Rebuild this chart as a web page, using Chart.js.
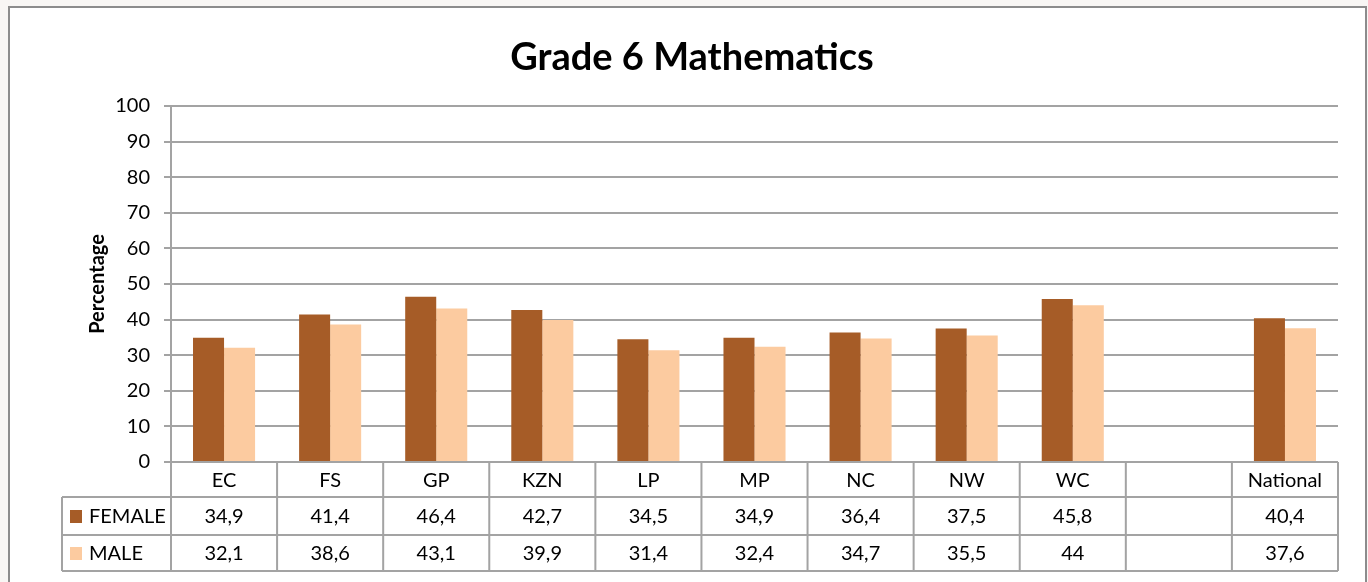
<!DOCTYPE html>
<html>
<head>
<meta charset="utf-8">
<title>Grade 6 Mathematics</title>
<script src="https://cdn.jsdelivr.net/npm/chart.js@4.4.1/dist/chart.umd.min.js"></script>
<style>
  html, body { margin: 0; padding: 0; background: #f8f6f4; }
  #wrap { position: relative; width: 1368px; height: 582px; }
</style>
</head>
<body>
<div id="wrap"><canvas id="chart" width="1368" height="582"></canvas></div>
<script>
// Provinces plus the national figure; the empty slot separates National.
const categories = ['EC', 'FS', 'GP', 'KZN', 'LP', 'MP', 'NC', 'NW', 'WC', '', 'National'];
const femaleValues = [34.9, 41.4, 46.4, 42.7, 34.5, 34.9, 36.4, 37.5, 45.8, null, 40.4];
const maleValues = [32.1, 38.6, 43.1, 39.9, 31.4, 32.4, 34.7, 35.5, 44, null, 37.6];
const seriesNames = ['FEMALE', 'MALE'];
const yTicks = [0, 10, 20, 30, 40, 50, 60, 70, 80, 90, 100];

const FEMALE_COLOR = '#a65c27';
const MALE_COLOR = '#fccba0';
const LINE_COLOR = '#a3a3a3';
const FONT = 'Lato, "Open Sans", sans-serif';

function fmt(v) {
  return v === null || v === undefined ? '' : String(v).replace('.', ',');
}

// Outer frame behind the chart and the data table underneath the plot.
const frameAndTable = {
  id: 'frameAndTable',
  beforeDraw(chart) {
    const ctx = chart.ctx;
    ctx.save();
    ctx.fillStyle = '#f8f6f4';
    ctx.fillRect(0, 0, chart.width, chart.height);
    ctx.fillStyle = '#ffffff';
    ctx.fillRect(9, 7, 1357, 600);
    ctx.strokeStyle = '#8c8c8c';
    ctx.lineWidth = 2;
    ctx.strokeRect(9, 7, 1357, 600);
    ctx.restore();
  },
  afterDraw(chart) {
    const ctx = chart.ctx;
    const x = chart.scales.x;
    const area = chart.chartArea;
    const n = categories.length;
    const step = x.getPixelForValue(1) - x.getPixelForValue(0);
    const bounds = [];
    for (let i = 0; i <= n; i++) {
      bounds.push(i === 0 ? area.left : (i === n ? area.right : x.getPixelForValue(i) - step / 2));
    }
    const legendLeft = 62;
    const rowTops = [area.bottom, 497, 535, 571];

    ctx.save();
    ctx.strokeStyle = LINE_COLOR;
    ctx.lineWidth = 2;
    // horizontal rules
    ctx.beginPath();
    ctx.moveTo(legendLeft, rowTops[1]); ctx.lineTo(area.right, rowTops[1]);
    ctx.moveTo(legendLeft, rowTops[2]); ctx.lineTo(area.right, rowTops[2]);
    ctx.moveTo(legendLeft, rowTops[3]); ctx.lineTo(area.right, rowTops[3]);
    // vertical rules
    bounds.forEach(b => { ctx.moveTo(b, rowTops[0]); ctx.lineTo(b, rowTops[3]); });
    ctx.moveTo(legendLeft, rowTops[1]); ctx.lineTo(legendLeft, rowTops[3]);
    ctx.stroke();

    ctx.fillStyle = '#000000';
    ctx.font = '20px ' + FONT;
    ctx.textAlign = 'center';
    ctx.textBaseline = 'middle';
    const rowMid = r => (rowTops[r] + rowTops[r + 1]) / 2 + 1;
    categories.forEach((c, i) => {
      const cx = x.getPixelForValue(i);
      ctx.fillText(c, cx, rowMid(0));
      ctx.fillText(fmt(femaleValues[i]), cx, rowMid(1));
      ctx.fillText(fmt(maleValues[i]), cx, rowMid(2));
    });

    // legend keys in the first column
    const keyColors = [FEMALE_COLOR, MALE_COLOR];
    ctx.textAlign = 'left';
    seriesNames.forEach((name, r) => {
      const my = rowMid(r + 1) - 1;
      ctx.fillStyle = keyColors[r];
      ctx.fillRect(70, my - 6, 12, 13);
      ctx.fillStyle = '#000000';
      ctx.fillText(name, 89, my + 1);
    });
    ctx.restore();
  }
};

new Chart(document.getElementById('chart'), {
  type: 'bar',
  data: {
    labels: categories,
    datasets: [
      { label: seriesNames[0], data: femaleValues, backgroundColor: FEMALE_COLOR, borderWidth: 0 },
      { label: seriesNames[1], data: maleValues, backgroundColor: MALE_COLOR, borderWidth: 0 }
    ]
  },
  options: {
    responsive: false,
    animation: false,
    events: [],
    layout: { padding: { left: 46, top: 0, right: 30, bottom: 120 } },
    datasets: { bar: { categoryPercentage: 0.585, barPercentage: 1.0 } },
    plugins: {
      legend: { display: false },
      tooltip: { enabled: false },
      title: {
        display: true,
        text: 'Grade 6 Mathematics',
        color: '#000000',
        font: { family: FONT, size: 38, weight: 'bold', lineHeight: 1.2 },
        padding: { top: 35, bottom: 25.4 }
      }
    },
    scales: {
      x: {
        type: 'category',
        display: false,
        offset: true
      },
      y: {
        min: 0,
        max: 100,
        afterBuildTicks(scale) { scale.ticks = yTicks.map(v => ({ value: v })); },
        afterFit(scale) { scale.width = 125; },
        grid: { color: LINE_COLOR, lineWidth: 2, tickLength: 7, drawTicks: true },
        border: { display: true, color: LINE_COLOR, width: 2 },
        ticks: { color: '#000000', padding: 14, font: { family: FONT, size: 20 } },
        title: {
          display: true,
          text: 'Percentage',
          color: '#000000',
          font: { family: FONT, size: 20, weight: 'bold', lineHeight: 1.2 },
          padding: { top: 40, bottom: 0 }
        }
      }
    }
  },
  plugins: [frameAndTable]
});
</script>
</body>
</html>
